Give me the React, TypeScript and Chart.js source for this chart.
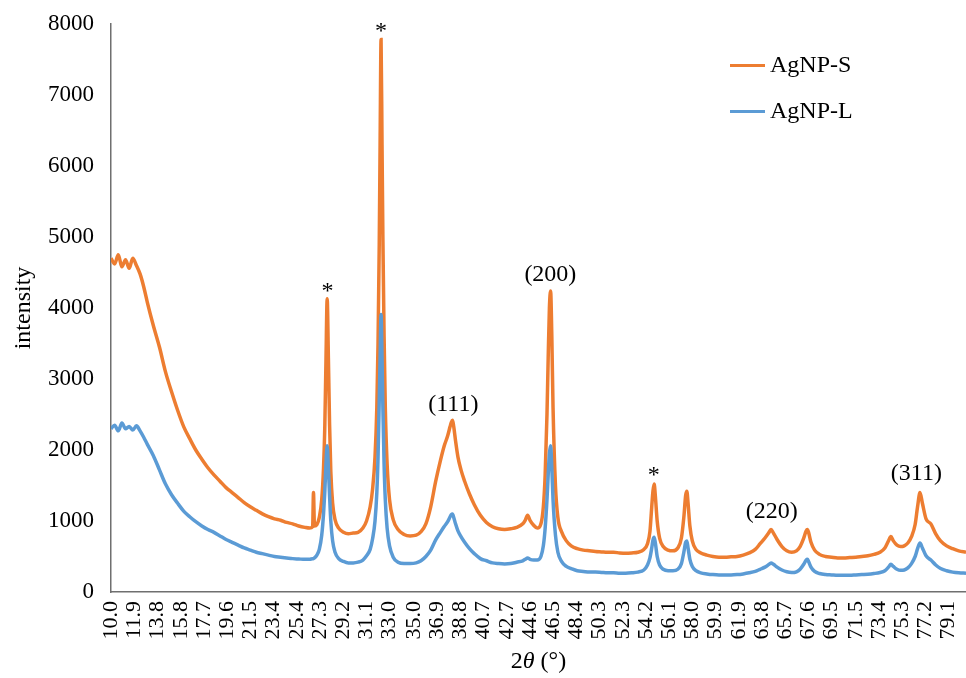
import React, { useEffect, useRef } from 'react';
import { Chart, registerables } from 'chart.js';

Chart.register(...registerables);

// 2θ positions (degrees)
const twoTheta = [
  10.0, 10.3, 10.6, 10.9, 11.2, 11.5, 11.8, 12.1, 12.4, 12.7,
  13.0, 13.5, 14.0, 14.5, 15.0, 15.5, 16.0, 16.5, 17.0, 17.5,
  18.0, 18.5, 19.0, 19.5, 20.0, 20.5, 21.0, 21.5, 22.0, 22.5,
  23.0, 23.5, 24.0, 24.5, 25.0, 25.5, 26.0, 26.4, 26.65, 26.72,
  26.8, 27.0, 27.2, 27.4, 27.55, 27.65, 27.75, 27.85, 27.95, 28.05,
  28.15, 28.3, 28.5, 28.8, 29.2, 29.6, 30.0, 30.4, 30.8, 31.1,
  31.4, 31.6, 31.8, 31.95, 32.05, 32.15, 32.22, 32.3, 32.38, 32.45,
  32.55, 32.65, 32.8, 33.0, 33.3, 33.7, 34.2, 34.7, 35.2, 35.6,
  36.0, 36.4, 36.8, 37.2, 37.5, 37.8, 38.0, 38.1, 38.2, 38.3,
  38.45, 38.65, 38.9, 39.2, 39.6, 40.0, 40.5, 41.0, 41.5, 42.0,
  42.5, 43.0, 43.5, 44.0, 44.2, 44.4, 44.6, 44.9, 45.2, 45.5,
  45.7, 45.85, 46.0, 46.1, 46.2, 46.3, 46.4, 46.5, 46.7, 46.9,
  47.2, 47.6, 48.0, 48.5, 49.0, 49.5, 50.0, 50.5, 51.0, 51.5,
  52.0, 52.5, 53.0, 53.5, 54.0, 54.3, 54.5, 54.65, 54.75, 54.85,
  54.95, 55.1, 55.3, 55.6, 56.0, 56.4, 56.8, 57.1, 57.3, 57.45,
  57.55, 57.65, 57.8, 58.0, 58.3, 58.7, 59.2, 59.7, 60.2, 60.7,
  61.2, 61.7, 62.2, 62.7, 63.2, 63.6, 64.0, 64.3, 64.5, 64.7,
  65.0, 65.4, 65.8, 66.2, 66.6, 66.9, 67.2, 67.4, 67.5, 67.6,
  67.8, 68.1, 68.5, 69.0, 69.5, 70.0, 70.5, 71.0, 71.5, 72.0,
  72.5, 73.0, 73.5, 73.9, 74.2, 74.4, 74.6, 74.9, 75.2, 75.5,
  75.8, 76.1, 76.4, 76.6, 76.8, 77.0, 77.3, 77.7, 78.1, 78.5,
  79.0, 79.5, 80.0, 80.6,
];

// AgNP-S intensity
const agnpS = [
  4700, 4620, 4750, 4580, 4680, 4560, 4700, 4600, 4480, 4300,
  4080, 3750, 3450, 3100, 2820, 2560, 2330, 2160, 2000, 1870,
  1750, 1650, 1560, 1470, 1400, 1330, 1260, 1200, 1150, 1100,
  1060, 1030, 1010, 980, 960, 930, 910, 900, 920, 1400,
  930, 950, 1050, 1300, 1750, 2300, 3250, 4130, 3300, 2350,
  1700, 1250, 1020, 900, 840, 820, 830, 840, 900, 1000,
  1200, 1450, 1900, 2600, 3500, 4900, 6300, 7780, 6300, 5000,
  3600, 2600, 1800, 1300, 1020, 880, 810, 790, 800, 850,
  960, 1200, 1550, 1850, 2050, 2200, 2330, 2390, 2420, 2330,
  2130, 1900, 1720, 1560, 1380, 1230, 1080, 980, 920, 890,
  880, 890, 910, 960, 1010, 1080, 1010, 940, 900, 960,
  1200, 1650, 2500, 3300, 4000, 4240, 3600, 2600, 1500, 1050,
  850, 720, 650, 610, 590, 580, 570, 565, 560, 560,
  550, 545, 550, 560, 600, 680, 850, 1200, 1420, 1520,
  1350, 1000, 760, 640, 590, 580, 620, 760, 1050, 1360,
  1420, 1250, 930, 720, 600, 550, 520, 500, 490, 490,
  495, 500, 520, 550, 600, 680, 760, 830, 880, 830,
  740, 640, 580, 560, 580, 640, 760, 860, 880, 840,
  700, 590, 530, 500, 490, 480, 480, 485, 490, 500,
  510, 530, 560, 620, 720, 780, 720, 660, 640, 650,
  690, 780, 950, 1200, 1400, 1250, 1030, 960, 820, 720,
  650, 610, 580, 560,
];

// AgNP-L intensity
const agnpL = [
  2300, 2350, 2270, 2380, 2300, 2330, 2280, 2340, 2270, 2180,
  2080, 1920, 1720, 1520, 1370, 1250, 1140, 1060, 990, 930,
  880, 840, 790, 740, 700, 660, 620, 590, 560, 540,
  520, 500, 490, 480, 470, 465, 460, 460, 470, 470,
  480, 520, 600, 800, 1100, 1400, 1800, 2060, 1750, 1350,
  1000, 720, 560, 470, 430, 410, 410, 420, 450, 510,
  600, 750, 1000, 1400, 1900, 2700, 3300, 3910, 3300, 2600,
  1800, 1300, 900, 650, 490, 420, 400, 400, 410, 440,
  500, 590, 730, 840, 920, 990, 1060, 1090, 1100, 1050,
  960, 860, 780, 700, 610, 540, 470, 440, 410, 400,
  395, 400, 420, 440, 460, 480, 460, 450, 450, 500,
  650, 900, 1300, 1650, 1950, 2060, 1750, 1300, 800, 560,
  430, 360, 330, 300, 290, 280, 280, 275, 270, 270,
  265, 265, 270, 280, 310, 380, 480, 620, 730, 770,
  690, 500, 380, 320, 300, 300, 320, 400, 560, 700,
  720, 620, 460, 360, 300, 270, 255, 245, 240, 240,
  240, 245, 255, 270, 290, 320, 350, 385, 410, 390,
  350, 310, 285, 275, 285, 320, 390, 450, 460, 430,
  350, 290, 260, 245, 240, 235, 235, 235, 240, 245,
  250, 260, 275, 300, 350, 390, 360, 320, 305, 310,
  340, 400, 500, 610, 690, 620, 510, 450, 380, 330,
  300, 280, 270, 265,
];

const xTickValues = [
  10.0, 11.9, 13.8, 15.8, 17.7, 19.6, 21.5, 23.4, 25.4, 27.3,
  29.2, 31.1, 33.0, 35.0, 36.9, 38.8, 40.7, 42.7, 44.6, 46.5,
  48.4, 50.3, 52.3, 54.2, 56.1, 58.0, 59.9, 61.9, 63.8, 65.7,
  67.6, 69.5, 71.5, 73.4, 75.3, 77.2, 79.1,
];

const seriesNames = ['AgNP-S', 'AgNP-L'];
const seriesColors = ['#ED7D31', '#5B9BD5'];

// peak annotations
const annLabels = ['*', '*', '(111)', '(200)', '*', '(220)', '(311)'];
const annX = [27.88, 32.3, 38.27, 46.28, 54.82, 64.56, 76.5];
const annY = [4225, 7887, 2634, 4465, 1634, 1131, 1662];

const yTitle = 'intensity';
const SERIF = "'Liberation Serif', 'Times New Roman', serif";

export default function App() {
  const ref = useRef<HTMLCanvasElement>(null);

  useEffect(() => {
    if (!ref.current) return;

    const overlay = {
      id: 'overlay',
      afterDraw(chart: any) {
        const { ctx, chartArea } = chart;
        const xs = chart.scales.x;
        const ys = chart.scales.y;
        ctx.save();
        ctx.fillStyle = '#000';
        ctx.textAlign = 'center';
        ctx.textBaseline = 'middle';
        ctx.font = `24px ${SERIF}`;
        annLabels.forEach((t, i) => {
          ctx.fillText(t, xs.getPixelForValue(annX[i]), ys.getPixelForValue(annY[i]));
        });

        // legend
        const lgX = 730;
        const lgY = [65.5, 111.5];
        seriesNames.forEach((name, i) => {
          ctx.strokeStyle = seriesColors[i];
          ctx.lineWidth = 3;
          ctx.beginPath();
          ctx.moveTo(lgX, lgY[i]);
          ctx.lineTo(lgX + 35, lgY[i]);
          ctx.stroke();
          ctx.textAlign = 'left';
          ctx.fillText(name, lgX + 40, lgY[i]);
        });

        // y title
        ctx.save();
        ctx.translate(24, (chartArea.top + chartArea.bottom) / 2);
        ctx.rotate(-Math.PI / 2);
        ctx.textAlign = 'center';
        ctx.fillText(yTitle, 0, 0);
        ctx.restore();

        // x title: 2θ (°)
        const parts = [
          { t: '2', f: `24px ${SERIF}` },
          { t: 'θ', f: `italic 24px ${SERIF}` },
          { t: ' (°)', f: `24px ${SERIF}` },
        ];
        let total = 0;
        parts.forEach((p) => { ctx.font = p.f; total += ctx.measureText(p.t).width; });
        let cx = (chartArea.left + chartArea.right) / 2 - total / 2;
        ctx.textAlign = 'left';
        parts.forEach((p) => {
          ctx.font = p.f;
          ctx.fillText(p.t, cx, 662);
          cx += ctx.measureText(p.t).width;
        });
        ctx.restore();
      },
    };

    const chart = new Chart(ref.current, {
      type: 'line',
      data: {
        datasets: [
          {
            label: seriesNames[0],
            data: twoTheta.map((x, i) => ({ x, y: agnpS[i] })),
            borderColor: seriesColors[0],
            backgroundColor: seriesColors[0],
            borderWidth: 3.5,
            pointRadius: 0,
            cubicInterpolationMode: 'monotone',
            order: 2,
          },
          {
            label: seriesNames[1],
            data: twoTheta.map((x, i) => ({ x, y: agnpL[i] })),
            borderColor: seriesColors[1],
            backgroundColor: seriesColors[1],
            borderWidth: 3.5,
            pointRadius: 0,
            cubicInterpolationMode: 'monotone',
            order: 1,
          },
        ],
      },
      options: {
        animation: false,
        responsive: true,
        maintainAspectRatio: false,
        layout: { padding: { top: 24, left: 0, right: 0, bottom: 0 } },
        plugins: {
          legend: { display: false },
          tooltip: { enabled: false },
        },
        scales: {
          x: {
            type: 'linear',
            min: 10,
            max: 80.6,
            afterBuildTicks: (s: any) => {
              s.ticks = xTickValues.map((v) => ({ value: v }));
            },
            afterFit: (s: any) => {
              s.height = 86;
              s.paddingLeft = 0;
              s.paddingRight = 0;
            },
            ticks: {
              autoSkip: false,
              maxRotation: 90,
              minRotation: 90,
              padding: 9,
              color: '#000',
              font: { family: SERIF, size: 22 },
              callback: (v: any) => Number(v).toFixed(1),
            },
            grid: { display: false, drawTicks: false },
            border: { display: true, color: '#6f6f6f', width: 1.5 },
          },
          y: {
            min: 0,
            max: 8000,
            afterFit: (s: any) => {
              s.width = 111;
              s.paddingTop = 0;
              s.paddingBottom = 0;
            },
            ticks: {
              stepSize: 1000,
              padding: 17,
              color: '#000',
              font: { family: SERIF, size: 23 },
              callback: (v: any) => String(v),
            },
            grid: { display: false, drawTicks: false },
            border: { display: true, color: '#6f6f6f', width: 1.5 },
          },
        },
      },
      plugins: [overlay],
    });

    return () => chart.destroy();
  }, []);

  return (
    <div style={{ position: 'absolute', left: 0, top: 0, width: 966, height: 678, background: '#fff' }}>
      <canvas ref={ref} />
    </div>
  );
}
